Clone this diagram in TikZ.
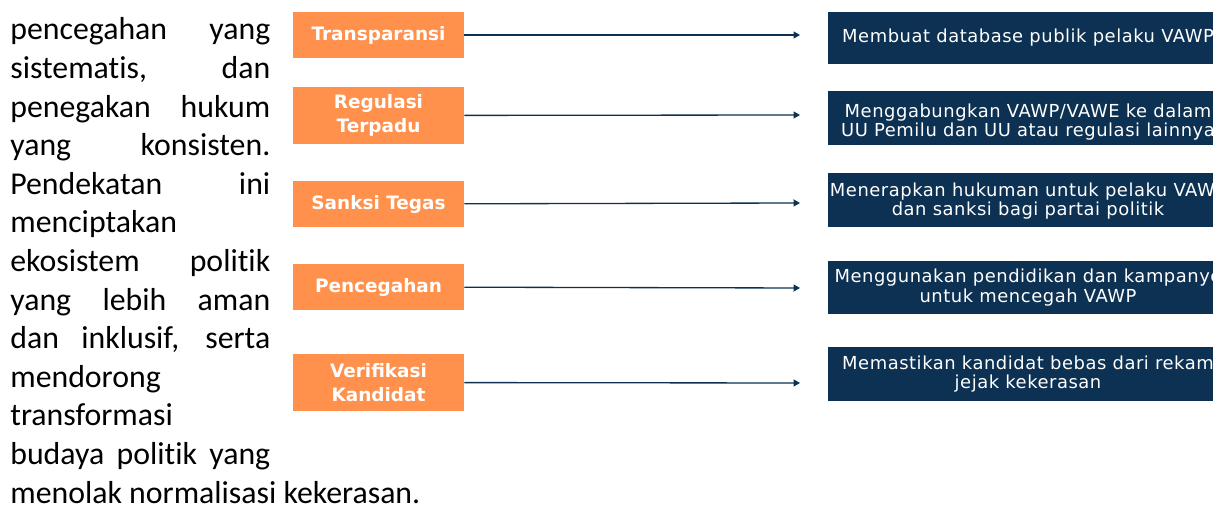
\documentclass[tikz,border=0pt]{standalone}
\usepackage{fontspec}
\setmainfont[Ligatures=NoCommon]{Carlito}
\newfontfamily\kotakfont{DejaVu Sans}
\newfontfamily\aksifont[LetterSpace=3]{DejaVu Sans}
\usetikzlibrary{arrows.meta, positioning}
\definecolor{oranye}{HTML}{FF914D}
\definecolor{navy}{HTML}{0D3152}
\tikzstyle{pilar} = [rectangle, minimum width=3.42cm, minimum height=0.92cm, inner sep=0pt, text centered, fill=oranye, text=white, align=center, font=\kotakfont\bfseries\fontsize{10.5}{13.7}\selectfont]
\tikzstyle{aksi} = [rectangle, minimum width=7.7cm, minimum height=1.07cm, inner sep=0pt, fill=navy]
\tikzstyle{aksiteks} = [inner sep=0pt, text=white, align=center, font=\aksifont\fontsize{10.2}{11.2}\selectfont]
\tikzstyle{baris} = [anchor=base west, inner sep=0pt, font=\fontsize{18.1}{22}\selectfont]
\tikzstyle{panah} = [draw=navy, line width=0.75pt, -{Triangle[length=1.3mm, width=1.4mm]}]

\begin{document}
\begin{tikzpicture}[x=0.02cm, y=-0.02cm]
\useasboundingbox (0,0) rectangle (1225,509);
% paragraf kiri
\foreach \isi [count=\i] in {{pencegahan yang}, {sistematis, dan}, {penegakan hukum}, {yang konsisten.}, {Pendekatan ini}, {menciptakan}, {ekosistem politik}, {yang lebih aman}, {dan inklusif, serta}, {mendorong}, {transformasi}, {budaya politik yang}}
  \node (b\i) [baris] at (10,{40+38.6*(\i-1)}) {\makebox[5.2cm][s]{\isi}};
\node (b13) [baris] at (10,503.2) {menolak normalisasi kekerasan.};
% kotak oranye
\node (transparansi) [pilar] at (378.5,35) {Transparansi};
\node (regulasi) [pilar, minimum height=1.14cm] at (378.5,115.5) {Regulasi\\Terpadu};
\node (sanksi) [pilar] at (378.5,204) {Sanksi Tegas};
\node (pencegahan) [pilar] at (378.5,287) {Pencegahan};
\node (verifikasi) [pilar, minimum height=1.14cm] at (378.5,382.5) {Verifikasi\\Kandidat};
% kotak navy
\node (a1) [aksi, minimum height=1.04cm] at (1020.5,38) {};
\node (a2) [aksi] at (1020.5,118) {};
\node (a3) [aksi] at (1020.5,200) {};
\node (a4) [aksi] at (1020.5,287.5) {};
\node (a5) [aksi] at (1020.5,374) {};
\begin{scope}
\clip (a1.north west) rectangle (a5.south east);
\node (t1) [aksiteks] at (1028,38) {Membuat database publik pelaku VAWP};
\node (t2) [aksiteks] at (1028,122) {Menggabungkan VAWP/VAWE ke dalam\\UU Pemilu dan UU atau regulasi lainnya};
\node (t3) [aksiteks] at (1028,201) {Menerapkan hukuman untuk pelaku VAWP\\dan sanksi bagi partai politik};
\node (t4) [aksiteks] at (1028,287.5) {Menggunakan pendidikan dan kampanye\\untuk mencegah VAWP};
\node (t5) [aksiteks] at (1028,374) {Memastikan kandidat bebas dari rekam\\jejak kekerasan};
\end{scope}
% ujung panah
\coordinate (u1) at (800,35);
\coordinate (u2) at (800,115);
\coordinate (u3) at (800,203);
\coordinate (u4) at (800,288);
\coordinate (u5) at (800,383);
\draw [panah] (transparansi) -- (u1);
\draw [panah] (regulasi) -- (u2);
\draw [panah] (sanksi) -- (u3);
\draw [panah] (pencegahan) -- (u4);
\draw [panah] (verifikasi) -- (u5);
\end{tikzpicture}
\end{document}
